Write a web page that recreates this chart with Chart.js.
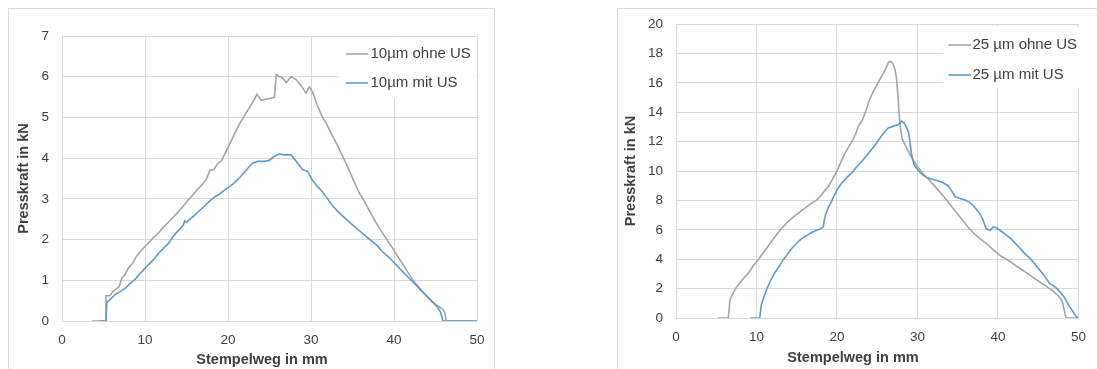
<!DOCTYPE html>
<html><head><meta charset="utf-8">
<script src="https://cdn.jsdelivr.net/npm/chart.js@4.4.1/dist/chart.umd.min.js"></script>
<style>
html,body{margin:0;padding:0;background:#fff;}
body{width:1097px;height:369px;position:relative;overflow:hidden;font-family:"Liberation Sans",Arial,sans-serif;}
.frame{position:absolute;border:1px solid #d9d9d9;box-sizing:border-box;}
canvas{position:absolute;top:0;}
</style></head><body>
<div class="frame" style="left:8px;top:8px;width:487px;height:400px"></div>
<div class="frame" style="left:617px;top:8px;width:500px;height:400px"></div>
<canvas id="c1" width="500" height="369" style="left:0px"></canvas>
<canvas id="c2" width="497" height="369" style="left:600px"></canvas>
<script>
// ---- Data ----
const xTicks = [0, 10, 20, 30, 40, 50];
const yTicksLeft = [0, 1, 2, 3, 4, 5, 6, 7];
const yTicksRight = [0, 2, 4, 6, 8, 10, 12, 14, 16, 18, 20];
const xTitle = 'Stempelweg in mm';
const yTitle = 'Presskraft in kN';

const label10ohne = '10µm ohne US';
const label10mit = '10µm mit US';
const label25ohne = '25 µm ohne US';
const label25mit = '25 µm mit US';

// 10 µm ohne US
const weg10ohne = [3.6,5.2,5.3,5.8,6.1,6.5,6.9,7.2,7.6,8.0,8.5,9.0,9.5,10.0,10.5,11.0,11.6,12.2,12.8,13.4,14.0,14.6,15.2,15.8,16.4,17.0,17.4,17.8,18.3,18.8,19.2,19.6,20.2,20.8,21.4,22.0,22.6,23.2,23.5,24.0,24.6,25.2,25.6,25.8,26.2,26.6,27.0,27.2,27.6,28.2,28.8,29.4,29.8,30.2,30.8,31.4,31.8,32.4,33.1,33.8,34.5,35.2,35.8,36.4,37.0,37.8,38.5,39.2,39.8,40.4,41.0,41.6,42.2,42.8,43.4,44.0,44.6,45.2,45.8,46.1,46.3,50];
const kraft10ohne = [0,0,0.62,0.62,0.72,0.78,0.85,1.05,1.15,1.3,1.42,1.6,1.72,1.83,1.93,2.05,2.15,2.3,2.42,2.55,2.68,2.82,2.97,3.1,3.25,3.38,3.48,3.7,3.72,3.88,3.93,4.1,4.35,4.6,4.85,5.05,5.25,5.45,5.57,5.42,5.45,5.47,5.5,6.05,6.0,5.97,5.86,5.9,6.0,5.93,5.78,5.6,5.75,5.62,5.27,5.0,4.87,4.62,4.35,4.05,3.75,3.42,3.15,2.95,2.72,2.43,2.2,1.98,1.8,1.6,1.42,1.22,1.03,0.88,0.73,0.6,0.48,0.38,0.3,0.22,0,0];

// 10 µm mit US
const weg10mit = [4.5,5.3,5.4,5.9,6.4,7.0,7.6,8.2,8.8,9.2,9.8,10.4,11.0,11.6,12.2,12.8,13.4,14.0,14.6,14.8,15.0,15.4,16.0,16.6,17.2,17.8,18.4,19.0,19.6,20.2,20.8,21.4,22.0,22.6,23.0,23.6,24.4,25.0,25.6,26.2,26.8,27.6,28.0,28.6,29.0,29.6,30.2,30.8,31.4,32.0,32.6,33.2,33.8,34.4,35.0,35.6,36.2,36.8,37.4,38.0,38.6,39.2,39.8,40.4,41.0,41.6,42.2,42.8,43.4,44.0,44.6,45.2,45.6,45.9,50];
const kraft10mit = [0,0,0.45,0.55,0.65,0.72,0.8,0.92,1.02,1.12,1.25,1.38,1.5,1.65,1.78,1.9,2.08,2.22,2.35,2.46,2.42,2.5,2.6,2.72,2.83,2.95,3.05,3.12,3.22,3.3,3.4,3.52,3.66,3.8,3.88,3.92,3.92,3.95,4.05,4.1,4.08,4.08,3.98,3.82,3.72,3.67,3.45,3.3,3.17,3.0,2.83,2.7,2.58,2.47,2.36,2.26,2.15,2.05,1.95,1.85,1.7,1.6,1.48,1.35,1.22,1.1,0.97,0.85,0.72,0.6,0.47,0.35,0.22,0,0];

// 25 µm ohne US
const weg25ohne = [5.2,6.5,6.7,7.0,7.4,7.8,8.4,9.0,9.6,10.2,10.8,11.4,12.0,12.6,13.2,13.8,14.4,15.0,15.6,16.2,16.8,17.4,17.9,18.4,18.9,19.4,19.9,20.4,20.8,21.3,21.8,22.3,22.7,23.1,23.6,24.0,24.5,25.0,25.5,26.0,26.4,26.7,26.9,27.2,27.4,27.6,27.8,28.1,28.6,29.2,30.0,30.8,31.6,32.4,33.2,34.0,34.8,35.6,36.4,37.2,38.0,38.8,39.6,40.4,41.2,42.0,42.8,43.6,44.4,45.2,46.0,46.8,47.6,48.0,48.2,48.4,48.5,50];
const kraft25ohne = [0,0,1.2,1.6,2.0,2.3,2.7,3.05,3.55,3.95,4.4,4.85,5.3,5.75,6.15,6.5,6.8,7.05,7.3,7.55,7.8,8.0,8.25,8.6,8.95,9.4,9.9,10.5,11.0,11.5,11.95,12.5,13.1,13.4,14.1,14.8,15.4,15.9,16.4,16.9,17.4,17.45,17.35,16.9,16.3,14.9,13.2,12.2,11.6,11.0,10.3,9.75,9.3,8.8,8.3,7.75,7.2,6.65,6.1,5.65,5.3,4.95,4.55,4.2,3.95,3.65,3.35,3.05,2.75,2.45,2.15,1.85,1.45,1.1,0.6,0.1,0,0];

// 25 µm mit US
const weg25mit = [9.2,10.4,10.6,10.9,11.3,11.8,12.3,12.8,13.3,13.8,14.4,15.0,15.6,16.2,16.8,17.4,17.9,18.3,18.5,18.9,19.3,19.7,20.1,20.6,21.2,21.8,22.4,23.0,23.6,24.2,24.8,25.4,25.9,26.4,26.8,27.2,27.6,28.0,28.3,28.6,28.9,29.1,29.3,29.6,30.0,30.5,31.0,31.7,32.4,33.2,33.8,34.3,34.7,35.2,35.8,36.4,37.0,37.6,38.1,38.5,39.0,39.4,39.9,40.4,41.0,41.6,42.2,42.8,43.4,44.0,44.6,45.2,45.8,46.4,47.0,47.6,48.2,48.8,49.3,49.7,50.0];
const kraft25mit = [0,0,0.9,1.4,2.0,2.6,3.1,3.5,3.95,4.3,4.75,5.1,5.4,5.6,5.8,5.95,6.05,6.2,6.9,7.5,7.9,8.4,8.8,9.2,9.55,9.85,10.25,10.6,11.0,11.4,11.8,12.3,12.65,12.95,13.0,13.1,13.15,13.4,13.3,13.0,12.6,11.8,11.0,10.4,10.1,9.8,9.6,9.45,9.35,9.2,9.0,8.6,8.25,8.15,8.05,7.9,7.6,7.2,6.75,6.1,5.95,6.2,6.1,5.9,5.65,5.4,5.05,4.7,4.35,4.05,3.65,3.25,2.85,2.35,2.15,1.85,1.45,0.85,0.45,0.1,0];

// ---- Styles ----
const GRID = '#d9d9d9';
const TXT = '#404040';
const GRAY = '#a5a5a5';
const BLUE = '#5b9bd5';
const FAMILY = '"Liberation Sans", Arial, sans-serif';
Chart.defaults.font.family = FAMILY;

function pts(xs, ys) { return xs.map((x, i) => ({ x: x, y: ys[i] })); }

function legendPlugin(box) {
  return {
    id: 'boxLegend',
    beforeDatasetsDraw(chart) {
      const ctx = chart.ctx;
      ctx.save();
      ctx.fillStyle = '#ffffff';
      ctx.fillRect(box.x, box.y, box.w, box.h);
      ctx.font = '15px ' + FAMILY;
      ctx.textBaseline = 'middle';
      ctx.textAlign = 'left';
      chart.data.datasets.forEach((ds, i) => {
        const y = box.rows[i];
        ctx.strokeStyle = ds.borderColor;
        ctx.lineWidth = 1.6;
        ctx.beginPath();
        ctx.moveTo(box.lx0, y);
        ctx.lineTo(box.lx1, y);
        ctx.stroke();
        ctx.fillStyle = TXT;
        ctx.fillText(ds.label, box.tx, y);
      });
      ctx.restore();
    }
  };
}

function xTitlePlugin(pos) {
  return {
    id: 'xTitle',
    afterDraw(chart) {
      const ctx = chart.ctx;
      ctx.save();
      ctx.font = 'bold 14.5px ' + FAMILY;
      ctx.fillStyle = TXT;
      ctx.textAlign = 'center';
      ctx.textBaseline = 'middle';
      ctx.fillText(xTitle, pos.x, pos.y);
      ctx.restore();
    }
  };
}

function build(id, cfg) {
  return new Chart(document.getElementById(id), {
    type: 'line',
    data: {
      datasets: [
        { label: cfg.labels[0], data: pts(cfg.xs[0], cfg.ys[0]), borderColor: GRAY, borderWidth: 1.6, pointRadius: 0, tension: 0, fill: false, order: 1 },
        { label: cfg.labels[1], data: pts(cfg.xs[1], cfg.ys[1]), borderColor: BLUE, borderWidth: 1.6, pointRadius: 0, tension: 0, fill: false, order: 0 }
      ]
    },
    options: {
      responsive: false,
      animation: false,
      devicePixelRatio: 1,
      layout: { padding: { left: 0, right: cfg.padRight, top: cfg.padTop, bottom: 0 } },
      plugins: { legend: { display: false }, tooltip: { enabled: false } },
      scales: {
        x: {
          type: 'linear', min: 0, max: 50,
          afterBuildTicks: s => { s.ticks = xTicks.map(v => ({ value: v })); },
          afterFit: s => { s.height = cfg.xHeight; },
          grid: { color: GRID, lineWidth: 1, drawTicks: false },
          border: { display: false },
          ticks: { padding: 11, color: TXT, font: { size: 13.5 }, maxRotation: 0 }
        },
        y: {
          type: 'linear', min: 0, max: cfg.yTicks[cfg.yTicks.length - 1],
          afterBuildTicks: s => { s.ticks = cfg.yTicks.map(v => ({ value: v })); },
          afterFit: s => { s.width = cfg.yWidth; },
          grid: { color: GRID, lineWidth: 1, drawTicks: false },
          border: { display: false },
          ticks: { padding: 13, color: TXT, font: { size: 13.5 } },
          title: { display: true, text: yTitle, color: TXT, font: { size: 14.5, weight: 'bold' }, padding: { top: cfg.yTitlePad, bottom: 0 } }
        }
      }
    },
    plugins: [legendPlugin(cfg.legend), xTitlePlugin(cfg.xTitlePos)]
  });
}

build('c1', {
  labels: [label10ohne, label10mit],
  xs: [weg10ohne, weg10mit], ys: [kraft10ohne, kraft10mit],
  yTicks: yTicksLeft,
  padRight: 23, padTop: 36, xHeight: 48, yWidth: 62, yTitlePad: 15,
  legend: { x: 338, y: 38, w: 138, h: 60, rows: [54, 83], lx0: 346, lx1: 368, tx: 370.5 },
  xTitlePos: { x: 262, y: 360 }
});

build('c2', {
  labels: [label25ohne, label25mit],
  xs: [weg25ohne, weg25mit], ys: [kraft25ohne, kraft25mit],
  yTicks: yTicksRight,
  padRight: 11, padTop: 24, xHeight: 51, yWidth: 76, yTitlePad: 22,
  legend: { x: 343, y: 26, w: 142, h: 62, rows: [45, 75], lx0: 348.5, lx1: 371, tx: 372.5 },
  xTitlePos: { x: 253, y: 358 }
});
</script>
</body></html>
